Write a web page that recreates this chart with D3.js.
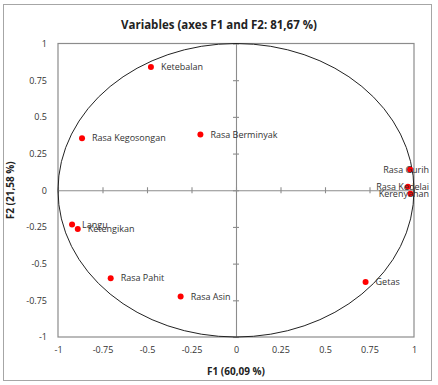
<!DOCTYPE html>
<html>
<head>
<meta charset="utf-8">
<script src="https://cdn.jsdelivr.net/npm/d3@7"></script>
<style>
  body { margin: 0; background: #fff; }
  text { font-family: "Open Sans", "Liberation Sans", sans-serif; }
</style>
</head>
<body>
<div class="chart"></div>
<script>
const names = ["Ketebalan", "Rasa Kegosongan", "Rasa Berminyak", "Rasa Gurih", "Rasa Kedelai",
  "Kerenyahan", "Getas", "Langu", "Ketengikan", "Rasa Pahit", "Rasa Asin"];
const f1 = [-0.478, -0.865, -0.20, 0.978, 0.966, 0.98, 0.728, -0.921, -0.889, -0.704, -0.311];
const f2 = [0.84, 0.355, 0.38, 0.141, 0.023, -0.023, -0.626, -0.234, -0.264, -0.60, -0.724];
const ticks = [-1, -0.75, -0.5, -0.25, 0, 0.25, 0.5, 0.75, 1];

const W = 438, H = 385;
const margin = { top: 43.5, right: 24, bottom: 48, left: 58 };
const width = W - margin.left - margin.right;
const height = H - margin.top - margin.bottom;
const fmt = d => String(d);

const root = d3.select(".chart").append("svg")
  .attr("width", W).attr("height", H);

root.append("rect")
  .attr("x", 3.5).attr("y", 4.5).attr("width", 428).attr("height", 376)
  .attr("fill", "#fff").attr("stroke", "#a6a6a6");

root.append("text")
  .attr("x", 219).attr("y", 29)
  .attr("text-anchor", "middle")
  .attr("font-size", 11.5).attr("font-weight", "bold").attr("fill", "#222")
  .text("Variables (axes F1 and F2: 81,67 %)");

const svg = root.append("g")
  .attr("transform", `translate(${margin.left}, ${margin.top})`);

const x = d3.scaleLinear().domain([-1, 1]).range([0, width]);
const y = d3.scaleLinear().domain([-1, 1]).range([height, 0]);

// frame
svg.append("rect")
  .attr("width", width).attr("height", height)
  .attr("fill", "none").attr("stroke", "#8c8c8c").attr("stroke-width", 1.2);

// tick labels (no lines)
const xAxis = svg.append("g")
  .attr("transform", `translate(0, ${height})`)
  .call(d3.axisBottom(x).tickValues(ticks).tickFormat(fmt).tickSize(0).tickPadding(10));
const yAxis = svg.append("g")
  .call(d3.axisLeft(y).tickValues(ticks).tickFormat(fmt).tickSize(0).tickPadding(11));
[xAxis, yAxis].forEach(a => {
  a.select(".domain").remove();
  a.selectAll("text").attr("font-size", 9).attr("fill", "#333")
    .attr("font-family", "'Open Sans', sans-serif");
});

// zero axes with ticks
const zx = svg.append("g")
  .attr("transform", `translate(0, ${y(0)})`)
  .call(d3.axisBottom(x).tickValues(ticks).tickFormat("").tickSize(6).tickSizeOuter(0));
zx.selectAll(".tick line").attr("transform", "translate(0,-3)");
const zy = svg.append("g")
  .attr("transform", `translate(${x(0)}, 0)`)
  .call(d3.axisLeft(y).tickValues(ticks).tickFormat("").tickSize(6).tickSizeOuter(0));
zy.selectAll(".tick line").attr("transform", "translate(3,0)");
[zx, zy].forEach(a => a.selectAll("path, line").attr("stroke", "#8c8c8c").attr("stroke-width", 1.1));

// unit circle
svg.append("ellipse")
  .attr("cx", x(0)).attr("cy", y(0))
  .attr("rx", x(1) - x(0)).attr("ry", y(0) - y(1))
  .attr("fill", "none").attr("stroke", "#222").attr("stroke-width", 1);

// axis titles
svg.append("text")
  .attr("x", x(0)).attr("y", height + 38)
  .attr("text-anchor", "middle")
  .attr("font-size", 10).attr("font-weight", "bold").attr("fill", "#222")
  .text("F1 (60,09 %)");
svg.append("text")
  .attr("transform", `translate(${-44}, ${y(0)}) rotate(-90)`)
  .attr("text-anchor", "middle")
  .attr("font-size", 10).attr("font-weight", "bold").attr("fill", "#222")
  .text("F2 (21,58 %)");

const data = names.map((n, i) => ({ name: n, f1: f1[i], f2: f2[i] }));

svg.selectAll("circle.pt")
  .data(data)
  .join("circle")
  .attr("class", "pt")
  .attr("cx", d => x(d.f1)).attr("cy", d => y(d.f2))
  .attr("r", 3).attr("fill", "#ff0000");

const rightLimit = W - 9 - margin.left;
svg.selectAll("text.lbl")
  .data(data)
  .join("text")
  .attr("class", "lbl")
  .attr("font-size", 9).attr("fill", "#333")
  .attr("dy", "0.35em")
  .attr("y", d => y(d.f2))
  .text(d => d.name)
  .each(function (d) {
    const t = d3.select(this);
    const w = this.getComputedTextLength();
    let lx = x(d.f1) + 10;
    if (lx + w > rightLimit) lx = rightLimit - w;
    t.attr("x", lx);
  });
</script>
</body>
</html>
